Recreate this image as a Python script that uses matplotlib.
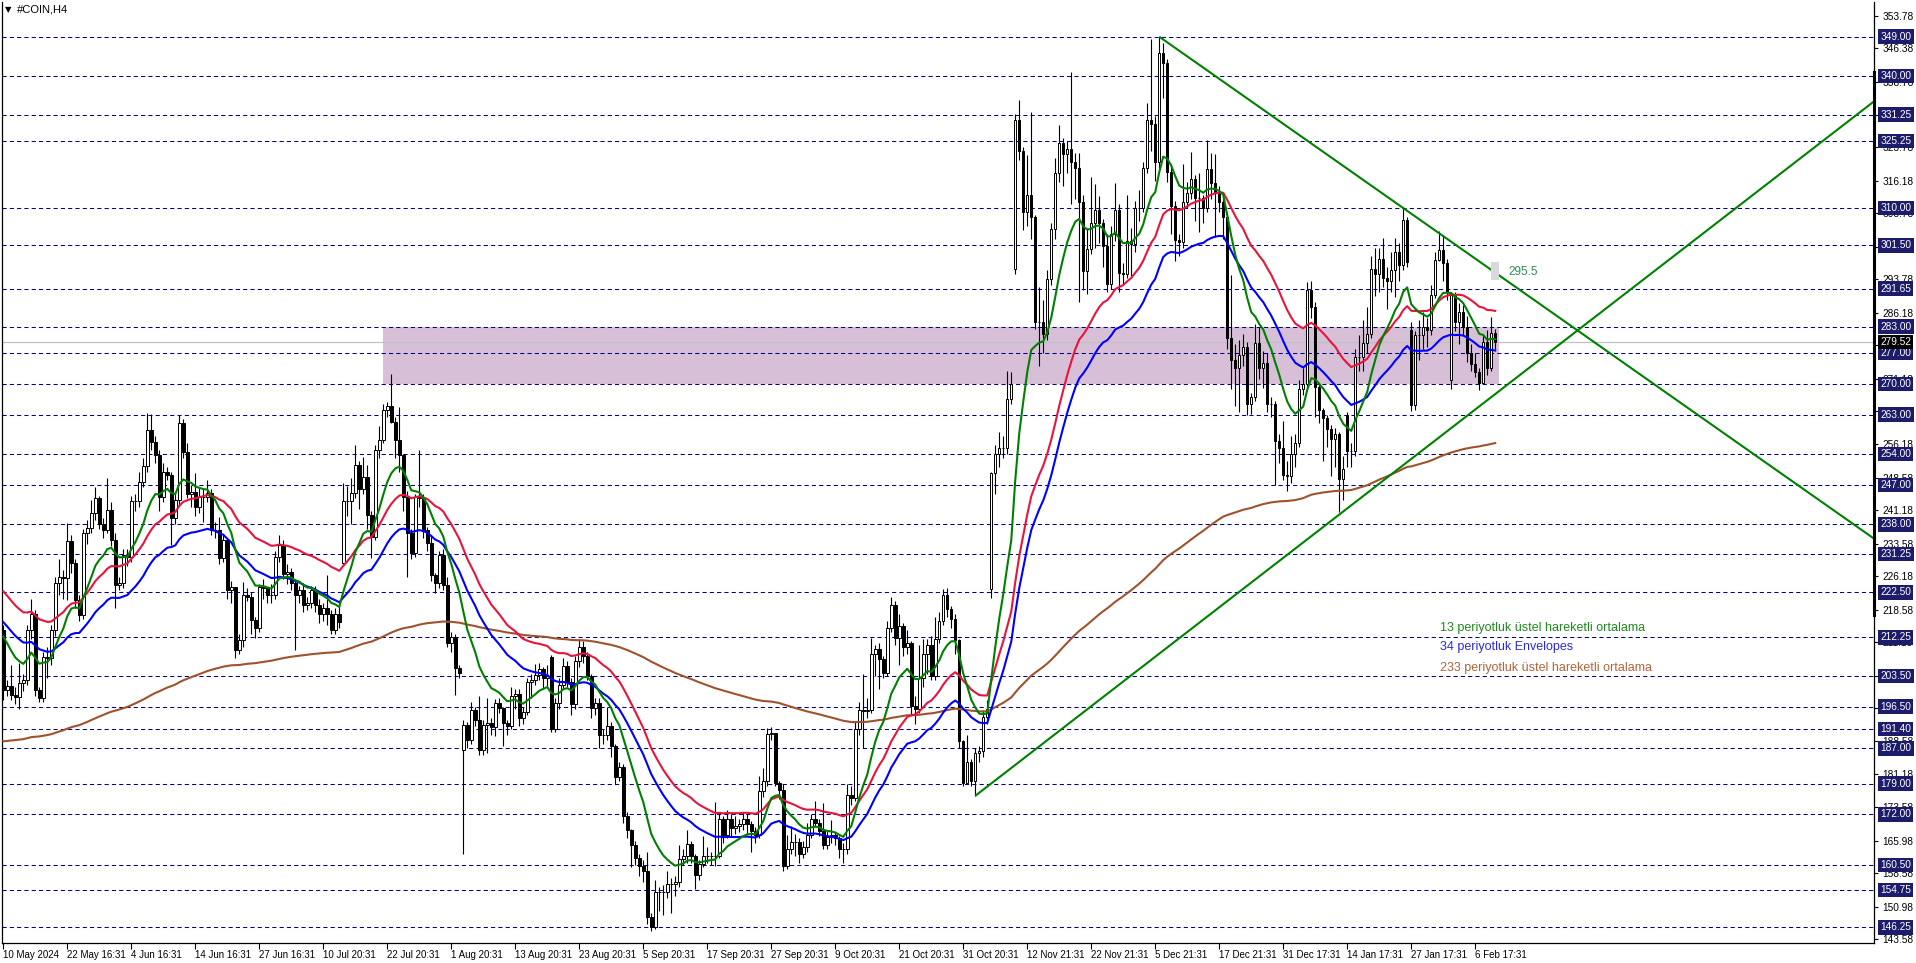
import numpy as np
import matplotlib
matplotlib.use('Agg')
import matplotlib.pyplot as plt
from matplotlib.patches import Rectangle

plt.rcParams['font.family'] = ['Liberation Sans', 'DejaVu Sans']

# H4 candles (one value per bar)
closes = [
    200.3, 201.1, 199.1, 198.8, 201.8, 202.6, 213.9, 217.7, 200.3, 198.4,
    207.9, 207.5, 213.9, 224.6, 226.0, 225.7, 234.1, 229.1, 220.8, 217.4,
    236.0, 237.1, 240.5, 243.9, 238.1, 236.7, 241.3, 234.4, 224.2, 224.6,
    231.0, 230.6, 243.2, 243.4, 247.7, 251.3, 259.5, 256.8, 253.8, 244.3,
    250.0, 249.2, 239.4, 243.5, 261.0, 254.5, 245.0, 245.4, 242.0, 244.3,
    244.3, 245.2, 236.7, 236.7, 230.3, 234.4, 223.1, 223.8, 209.4, 211.7,
    221.9, 221.5, 216.2, 214.3, 223.8, 223.4, 221.9, 221.9, 230.6, 233.3,
    226.8, 227.2, 224.6, 221.9, 223.1, 219.6, 220.0, 223.1, 219.6, 217.7,
    218.9, 217.7, 213.9, 217.7, 215.8, 243.2, 243.2, 245.1, 251.5, 246.0,
    248.8, 240.1, 235.2, 254.9, 257.2, 264.0, 265.0, 261.4, 257.2, 253.8,
    244.3, 236.0, 231.4, 244.3, 243.9, 236.7, 233.7, 226.5, 224.6, 231.0,
    224.2, 210.9, 212.4, 205.2, 204.1, 192.3, 189.0, 195.7, 193.5, 186.6,
    192.3, 192.7, 191.9, 197.4, 196.2, 192.7, 192.0, 199.0, 199.4, 193.9,
    195.3, 202.2, 202.6, 203.7, 205.0, 203.0, 203.5, 191.5, 197.4, 201.4,
    205.7, 202.2, 197.0, 207.0, 210.0, 208.0, 203.4, 196.2, 197.4, 190.0,
    190.0, 192.0, 187.5, 180.4, 182.8, 171.7, 168.5, 165.0, 162.0, 160.2,
    159.0, 148.7, 146.4, 154.3, 154.3, 154.3, 156.2, 156.2, 156.6, 161.8,
    162.5, 165.3, 162.5, 158.2, 160.6, 162.5, 162.5, 162.5, 162.5, 170.9,
    167.3, 170.9, 168.9, 169.3, 169.7, 170.9, 169.7, 168.1, 167.3, 177.2,
    179.6, 190.3, 190.4, 179.2, 177.6, 160.2, 164.2, 165.7, 165.7, 163.0,
    164.5, 167.3, 170.9, 170.1, 168.1, 164.9, 166.9, 167.3, 166.5, 164.2,
    164.0, 176.4, 175.6, 191.5, 195.8, 195.4, 195.8, 208.5, 209.7, 207.3,
    204.1, 214.4, 219.6, 212.1, 214.8, 210.0, 210.9, 196.6, 196.0, 203.0,
    208.5, 210.5, 203.4, 212.0, 216.0, 221.9, 218.8, 216.4, 211.7, 188.7,
    179.2, 183.8, 179.6, 185.9, 186.4, 194.2, 196.0, 249.6, 254.0, 255.3,
    255.3, 266.6, 270.0, 330.0, 323.0, 309.0, 313.0, 307.9, 284.0, 284.0,
    281.4, 293.9, 305.3, 317.9, 324.8, 322.2, 323.5, 320.5, 319.2, 311.3,
    295.7, 300.6, 306.6, 309.6, 306.6, 301.3, 292.7, 304.0, 309.6, 295.3,
    295.0, 302.6, 301.8, 310.0, 310.0, 319.2, 330.0, 329.2, 320.5, 345.3,
    343.1, 318.3, 310.5, 302.7, 302.2, 311.3, 313.5, 316.6, 312.2, 312.2,
    310.0, 318.8, 315.7, 313.5, 311.3, 308.0, 280.5, 275.3, 273.5, 276.6,
    278.3, 265.3, 267.0, 279.2, 273.5, 274.8, 265.3, 265.3, 257.0, 255.3,
    249.2, 249.0, 254.0, 256.6, 268.7, 270.0, 291.3, 287.4, 269.2, 264.0,
    262.2, 259.6, 257.4, 258.5, 248.3, 250.5, 254.8, 254.8, 276.1, 276.1,
    279.2, 281.4, 296.1, 295.0, 298.5, 294.0, 293.3, 295.9, 300.1, 297.0,
    307.3, 297.8, 265.1, 281.1, 281.1, 283.0, 282.2, 290.2, 298.2, 300.5,
    297.5, 291.0, 290.2, 284.1, 286.4, 283.0, 277.0, 274.6, 272.7, 270.1,
    279.6, 273.5, 281.5, 279.5,
]
highs = [
    215.0, 202.5, 206.0, 201.0, 206.5, 204.0, 215.0, 220.9, 218.5, 201.0,
    209.0, 210.0, 215.0, 226.0, 230.0, 227.5, 238.2, 235.5, 230.0, 222.0,
    237.0, 239.0, 243.6, 246.6, 244.5, 239.5, 248.5, 243.0, 236.0, 226.0,
    232.5, 232.5, 244.5, 245.0, 250.0, 253.0, 263.4, 263.2, 258.0, 255.0,
    252.0, 251.0, 250.0, 245.0, 262.9, 262.0, 256.5, 247.0, 249.6, 246.5,
    246.0, 248.1, 246.0, 238.5, 239.7, 235.5, 235.0, 225.0, 221.1, 213.0,
    224.9, 223.5, 222.5, 217.0, 224.5, 225.5, 223.6, 224.5, 232.0, 235.5,
    234.5, 229.0, 228.0, 225.5, 224.0, 224.7, 221.5, 224.0, 224.0, 221.0,
    220.0, 226.5, 218.5, 219.0, 219.6, 247.3, 246.8, 248.5, 256.0, 252.5,
    253.4, 251.6, 241.0, 256.0, 260.4, 265.5, 265.9, 272.2, 262.5, 264.6,
    254.0, 245.5, 237.0, 245.0, 254.9, 245.0, 237.5, 235.5, 227.0, 232.0,
    232.5, 226.0, 213.5, 213.0, 206.0, 193.5, 193.0, 197.5, 196.5, 199.0,
    193.5, 198.5, 194.0, 198.2, 198.5, 196.5, 193.5, 201.0, 200.5, 200.5,
    196.5, 203.0, 204.0, 206.1, 206.5, 205.5, 206.0, 208.3, 198.5, 203.0,
    207.5, 206.9, 203.0, 208.0, 212.0, 211.5, 209.0, 204.0, 198.5, 198.5,
    191.5, 196.5, 193.0, 188.0, 184.0, 183.5, 172.5, 168.6, 166.0, 163.0,
    161.5, 163.4, 149.5, 157.0, 155.5, 156.0, 159.0, 157.5, 158.0, 164.9,
    164.0, 168.5, 166.0, 163.0, 161.5, 167.0, 164.5, 163.5, 174.8, 172.5,
    171.5, 173.0, 172.0, 171.5, 171.0, 172.5, 172.0, 170.5, 169.0, 180.8,
    182.5, 191.6, 191.8, 190.5, 179.5, 179.0, 167.3, 169.3, 167.5, 166.5,
    166.0, 170.1, 172.0, 175.0, 171.0, 174.5, 168.5, 170.6, 168.0, 167.0,
    165.5, 178.8, 178.5, 193.0, 197.5, 204.0, 198.5, 212.1, 210.5, 210.9,
    208.0, 216.0, 221.5, 220.5, 217.5, 215.5, 214.0, 211.5, 199.0, 210.5,
    212.0, 212.0, 212.5, 216.8, 218.0, 223.2, 223.6, 219.5, 217.5, 212.0,
    189.0, 190.0, 184.5, 187.0, 187.5, 195.8, 198.0, 250.0, 256.1, 259.0,
    258.0, 273.0, 272.7, 331.3, 334.5, 324.0, 322.0, 331.8, 308.5, 292.0,
    289.0, 296.0, 306.5, 321.3, 329.0, 326.0, 325.3, 340.9, 322.5, 322.5,
    313.0, 305.5, 317.0, 315.5, 312.7, 307.5, 304.0, 306.0, 315.7, 311.0,
    297.5, 313.0, 305.5, 311.5, 314.0, 320.5, 334.0, 348.5, 331.0, 349.0,
    347.5, 344.0, 320.0, 311.5, 304.0, 320.0, 316.0, 322.7, 317.5, 318.0,
    313.0, 325.5, 322.5, 322.2, 315.0, 313.0, 309.0, 294.8, 279.0, 280.0,
    281.3, 279.5, 268.0, 283.5, 283.0, 277.5, 277.0, 267.0, 266.0, 258.5,
    261.5, 252.5, 258.0, 258.5, 270.9, 273.5, 293.1, 293.5, 288.5, 270.0,
    264.5, 263.0, 260.5, 260.0, 259.0, 253.5, 263.5, 256.5, 277.9, 281.0,
    284.5, 287.5, 299.0, 301.0, 301.0, 303.2, 296.5, 300.0, 303.2, 302.0,
    310.3, 308.0, 284.0, 282.0, 284.5, 286.4, 285.0, 292.5, 300.0, 304.7,
    303.9, 298.5, 291.0, 291.0, 288.3, 288.0, 285.5, 279.0, 277.0, 273.5,
    281.0, 282.2, 285.3, 282.5,
]
lows = [
    198.0, 199.0, 198.0, 197.0, 196.0, 200.0, 201.5, 212.0, 199.0, 197.5,
    197.5, 203.0, 206.0, 212.5, 222.0, 221.0, 220.8, 227.0, 219.0, 216.0,
    216.5, 233.5, 236.0, 239.0, 237.0, 235.0, 236.0, 233.0, 219.0, 223.0,
    223.5, 228.5, 229.5, 241.0, 242.0, 246.5, 250.0, 255.0, 252.0, 241.0,
    243.0, 248.0, 233.3, 238.0, 242.5, 253.0, 244.0, 242.0, 240.0, 240.5,
    238.6, 243.0, 235.5, 235.0, 229.0, 229.5, 221.0, 220.0, 207.5, 208.5,
    210.0, 220.5, 213.0, 212.1, 213.5, 221.0, 220.0, 220.0, 221.0, 229.5,
    225.5, 224.5, 223.0, 209.4, 220.0, 218.0, 218.5, 219.0, 218.0, 215.5,
    216.0, 215.0, 213.0, 213.0, 214.5, 228.6, 240.0, 238.0, 244.0, 241.5,
    245.0, 237.0, 230.3, 234.5, 253.0, 256.5, 262.5, 261.0, 253.0, 250.0,
    241.0, 226.1, 230.0, 230.5, 242.0, 235.0, 232.0, 225.0, 222.3, 223.5,
    223.0, 210.0, 209.0, 199.2, 203.0, 163.0, 187.0, 188.0, 192.0, 185.5,
    185.5, 186.0, 190.0, 189.9, 195.0, 187.5, 190.0, 191.5, 196.0, 192.0,
    192.5, 194.5, 198.5, 201.5, 202.5, 200.5, 201.0, 190.7, 190.7, 196.0,
    200.5, 201.0, 194.5, 196.0, 205.5, 206.5, 202.5, 194.0, 194.5, 187.1,
    188.0, 189.0, 185.0, 179.0, 179.5, 170.0, 166.5, 160.0, 160.5, 158.0,
    156.5, 147.0, 145.5, 146.0, 150.0, 149.0, 153.0, 149.5, 153.5, 155.5,
    160.5, 161.0, 161.0, 155.0, 157.0, 160.0, 161.0, 160.5, 160.2, 162.0,
    165.5, 166.5, 167.0, 167.5, 168.0, 168.5, 167.5, 163.5, 165.5, 166.5,
    176.0, 178.5, 189.0, 178.5, 175.5, 159.2, 159.5, 163.0, 162.5, 161.0,
    162.0, 163.5, 166.5, 169.0, 167.0, 164.0, 164.0, 165.5, 165.0, 162.0,
    161.0, 163.0, 174.0, 175.0, 190.0, 187.0, 194.0, 195.0, 203.5, 200.5,
    203.0, 203.5, 213.5, 210.5, 206.0, 208.0, 208.5, 194.5, 192.5, 195.0,
    201.0, 204.0, 202.5, 202.5, 211.0, 215.0, 217.0, 214.5, 208.5, 187.0,
    178.5, 179.0, 178.5, 176.2, 184.0, 185.0, 192.5, 221.3, 245.0, 251.0,
    253.0, 254.0, 265.5, 295.0, 321.0, 305.0, 306.0, 303.0, 282.5, 274.0,
    277.0, 280.0, 292.5, 303.0, 316.0, 315.0, 318.0, 311.0, 312.0, 288.5,
    291.3, 290.5, 299.5, 301.0, 302.0, 296.5, 291.0, 291.5, 302.5, 291.0,
    292.5, 294.0, 294.5, 300.0, 307.0, 309.0, 318.0, 323.0, 316.1, 319.0,
    335.0, 316.0, 304.0, 298.0, 299.0, 301.0, 310.0, 312.0, 307.0, 304.5,
    306.5, 309.0, 312.0, 303.5, 309.0, 303.0, 278.0, 268.8, 265.0, 263.5,
    274.0, 263.0, 263.1, 266.0, 271.0, 269.0, 263.5, 262.5, 247.0, 252.0,
    248.0, 245.5, 247.5, 251.0, 255.5, 267.5, 269.0, 285.0, 262.5, 261.0,
    252.5, 255.5, 249.0, 251.0, 240.9, 243.5, 251.0, 251.0, 253.5, 273.0,
    273.0, 277.0, 280.5, 290.0, 291.0, 292.0, 287.0, 291.0, 289.8, 293.5,
    296.0, 296.5, 263.8, 264.0, 275.5, 278.0, 278.3, 281.0, 289.5, 298.0,
    293.5, 289.0, 268.9, 282.0, 279.0, 281.0, 275.0, 273.0, 271.5, 268.5,
    270.0, 272.0, 273.0, 278.0,
]
first_open = 214.0
# bars that opened away from the previous close
gap_opens = {85: 229.1, 115: 186.6, 137: 207.7, 247: 223.2,
             253: 296.1, 336: 262.8, 352: 282.2, 362: 270.8}

# indicator starting values at the left edge of the chart
ema13_seed = 214.5
env34_seed = 220.4
env_dev = 0.016
ema233_seed = 188.5

tick_labels = ['10 May 2024', '22 May 16:31', '4 Jun 16:31', '14 Jun 16:31',
               '27 Jun 16:31', '10 Jul 20:31', '22 Jul 20:31', '1 Aug 20:31',
               '13 Aug 20:31', '23 Aug 20:31', '5 Sep 20:31', '17 Sep 20:31',
               '27 Sep 20:31', '9 Oct 20:31', '21 Oct 20:31', '31 Oct 20:31',
               '12 Nov 21:31', '22 Nov 21:31', '5 Dec 21:31', '17 Dec 21:31',
               '31 Dec 17:31', '14 Jan 17:31', '27 Jan 17:31', '6 Feb 17:31']
bars_per_label = 16

scale_ticks = [353.78, 346.38, 338.78, 331.18, 323.78, 316.18, 308.78, 301.18,
               293.78, 286.18, 278.78, 271.18, 263.78, 256.18, 248.58, 241.18,
               233.58, 226.18, 218.58, 211.18, 203.58, 196.18, 188.58, 181.18,
               173.58, 165.98, 158.58, 150.98, 143.58]
# scale values that sit fully under a level box in the chart
hidden_ticks = [331.18, 301.18, 278.78, 263.78, 203.58, 196.18]
levels = [349.00, 340.00, 331.25, 325.25, 310.00, 301.50, 291.65, 283.00,
          277.00, 270.00, 263.00, 254.00, 247.00, 238.00, 231.25, 222.50,
          212.25, 203.50, 196.50, 191.40, 187.00, 179.00, 172.00, 160.50,
          154.75, 146.25]
last_price = 279.52

zone_bars = (95.0, 373.9)
zone_prices = (270.0, 283.0)
down_trend = [(289, 349.0), (350, 310.0)]
up_trend = [(243, 176.2), (300, 216.3)]
target_text = '295.5'
target_price = 295.4
target_box = (372.0, 293.6, 297.8)

legend_items = [('13 periyotluk üstel hareketli ortalama', '#1f8a1f', 628),
                ('34 periyotluk Envelopes', '#2a2ad8', 647),
                ('233 periyotluk üstel hareketli ortalama', '#b3643c', 668)]


def ema(values, period, seed):
    k = 2.0 / (period + 1)
    out = []
    prev = seed
    for v in values:
        prev = prev + k * (v - prev)
        out.append(prev)
    return np.array(out)


closes = np.array(closes)
opens = np.concatenate([[first_open], closes[:-1]])
for i, o in gap_opens.items():
    opens[i] = o
highs = np.maximum(np.array(highs), np.maximum(opens, closes))
lows = np.minimum(np.array(lows), np.minimum(opens, closes))
x = np.arange(len(closes))

ema13 = ema(closes, 13, ema13_seed)
env_mid = ema(closes, 34, env34_seed)
env_up = env_mid * (1 + env_dev)
env_dn = env_mid * (1 - env_dev)
ema233 = ema(closes, 233, ema233_seed)

W, H = 1916, 963
fig = plt.figure(figsize=(W / 100, H / 100), dpi=100)
ax = fig.add_axes([2 / W, 20 / H, 1872 / W, 941 / H])
xmin, xmax = -0.33, 467.7
ax.set_xlim(xmin, xmax)
ax.set_ylim(142.7, 356.9)

# support / resistance zone
ax.add_patch(Rectangle((zone_bars[0], zone_prices[0]), zone_bars[1] - zone_bars[0],
                       zone_prices[1] - zone_prices[0], fc='#d8bfd8', ec='none', zorder=1))
ax.axhline(last_price, color='#c0c0c0', lw=0.9, zorder=1.5)
for lvl in levels:
    ax.axhline(lvl, color='#000080', lw=0.75, ls=(0, (4, 3)), zorder=2)

# candles
up = closes >= opens
body_lo = np.minimum(opens, closes)
body_h = np.abs(closes - opens)
ax.vlines(x, lows, highs, color='black', lw=0.8, zorder=3)
ax.bar(x, body_h, bottom=body_lo, width=0.62, color=np.where(up, 'white', 'black'),
       edgecolor='black', linewidth=0.7, zorder=4)

# indicators
ax.plot(x, ema233, color='#a0522d', lw=1.5, zorder=5)
ax.plot(x, env_up, color='#e8143c', lw=1.5, zorder=5)
ax.plot(x, env_dn, color='#0000ff', lw=1.5, zorder=5)
ax.plot(x, ema13, color='#008000', lw=1.5, zorder=5)

# trend lines, extended to the right edge
for (x1, y1), (x2, y2) in (down_trend, up_trend):
    slope = (y2 - y1) / (x2 - x1)
    ax.plot([x1, xmax], [y1, y1 + slope * (xmax - x1)], color='#008000', lw=1.5,
            zorder=6, solid_capstyle='butt')

ax.add_patch(Rectangle((target_box[0], target_box[1]), 2.0, target_box[2] - target_box[1],
                       fc='#d9d9d9', ec='none', zorder=6))
ax.text(376.2, target_price, target_text, color='#2e8b57', fontsize=8.5,
        ha='left', va='center', zorder=7)

for text, color, ypix in legend_items:
    fig.text(1440 / W, 1 - ypix / H, text, color=color, fontsize=9, ha='left', va='center')

fig.text(5 / W, 1 - 10 / H, '▼', fontsize=6, ha='left', va='center', family='DejaVu Sans')
fig.text(17 / W, 1 - 10 / H, '#COIN,H4', fontsize=8, ha='left', va='center')

# axes styling
ax.spines['top'].set_visible(False)
for side in ('left', 'right', 'bottom'):
    ax.spines[side].set_linewidth(0.9)
ax.yaxis.tick_right()
ax.set_yticks(scale_ticks)
ax.set_yticklabels(['' if v in hidden_ticks else f'{v:.2f}' for v in scale_ticks])
ax.tick_params(axis='y', labelsize=7.3, length=3, width=0.8, pad=3)
ticks = np.arange(len(tick_labels)) * bars_per_label
ax.set_xticks(ticks)
ax.set_xticklabels(tick_labels, ha='left')
ax.tick_params(axis='x', labelsize=7, length=4, width=0.8, pad=1)

ax.plot([1, 1], [217.4, 341.0], transform=ax.get_yaxis_transform(), color='black',
        lw=2.2, clip_on=False, zorder=8)

for lvl in levels:
    ax.text(1.0034, lvl, f'{lvl:.2f}', transform=ax.get_yaxis_transform(), ha='left',
            va='center', fontsize=7.3, color='white', zorder=10, clip_on=False,
            bbox=dict(boxstyle='square,pad=0.22', fc='#1c1c6b', ec='none'))
ax.text(1.0034, last_price, f'{last_price:.2f}', transform=ax.get_yaxis_transform(),
        ha='left', va='center', fontsize=7.3, color='white', zorder=11, clip_on=False,
        bbox=dict(boxstyle='square,pad=0.22', fc='black', ec='none'))

fig.savefig('out.png', dpi=100, facecolor='white')
